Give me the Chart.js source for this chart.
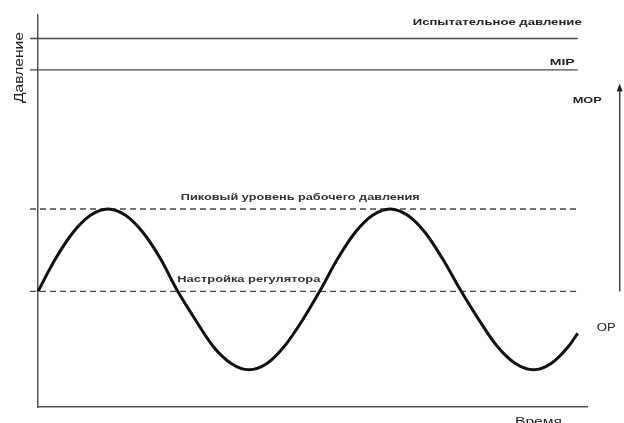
<!DOCTYPE html>
<html>
<head>
<meta charset="utf-8">
<script src="https://cdn.jsdelivr.net/npm/chart.js@4"></script>
<style>
html,body{margin:0;padding:0;background:#fff;}
#wrap{width:624px;height:423px;position:relative;}
</style>
</head>
<body>
<div id="wrap"><canvas id="c"></canvas></div>
<script>
// Time positions (arbitrary units) and pressure values
const timePoints = [0, 0.25, 0.5, 0.75, 1.0, 1.25, 1.5, 1.75, 1.99, 2.25, 2.5, 2.76, 3.01, 3.27, 3.52, 3.78,
                    4.03, 4.28, 4.53, 4.78, 5.03, 5.28, 5.53, 5.78, 6.04, 6.3, 6.56, 6.82, 7.08, 7.33, 7.58, 7.71];
const pressureValues = [29.5, 37.8, 44.5, 48.9, 50.5, 48.9, 44.5, 37.8, 29.7, 22.2, 15.5, 11.1, 9.5, 11.1, 15.5, 22.2,
                        29.7, 37.8, 44.5, 48.9, 50.5, 48.9, 44.5, 37.8, 29.7, 22.2, 15.5, 11.1, 9.5, 11.1, 15.5, 18.8];

// Reference levels
const levelNames = ["Испытательное давление", "MIP", "Пиковый уровень рабочего давления", "Настройка регулятора"];
const levelValues = [94, 86, 50.5, 29.5];
const levelDashed = [false, false, true, true];
const lineStart = -0.114;
const lineEnd = 7.71;

// MOP arrow (from regulator setting up to MOP)
const arrowX = 8.31;
const arrowFrom = 29.5;
const arrowTo = 81.5;

const axisTitleX = "Время";
const axisTitleY = "Давление";
const labelMOP = "MOP";
const labelOP = "OP";

const datasets = [];
levelValues.forEach((v, i) => {
  datasets.push({
    label: levelNames[i],
    data: [{x: lineStart, y: v}, {x: lineEnd, y: v}],
    borderColor: '#4a4a4a',
    borderWidth: 1.4,
    borderDash: levelDashed[i] ? [6, 4] : [],
    pointRadius: 0,
    clip: false,
    order: 2
  });
});
datasets.push({
  label: 'pressure',
  data: timePoints.map((t, i) => ({x: t, y: pressureValues[i]})),
  borderColor: '#111',
  borderWidth: 3,
  cubicInterpolationMode: 'monotone',
  pointRadius: 0,
  clip: false,
  order: 1
});
datasets.push({
  label: 'arrow',
  data: [{x: arrowX, y: arrowFrom}, {x: arrowX, y: arrowTo}],
  borderColor: '#444',
  borderWidth: 1.5,
  pointRadius: 0,
  clip: false,
  order: 0
});

function drawStretched(ctx, text, xLeft, yBase, width, font, color) {
  ctx.save();
  ctx.font = font;
  ctx.fillStyle = color;
  ctx.textBaseline = 'alphabetic';
  ctx.textAlign = 'left';
  const w = ctx.measureText(text).width;
  ctx.translate(xLeft, yBase);
  ctx.scale(width / w, 1);
  ctx.fillText(text, 0, 0);
  ctx.restore();
}

const labelsPlugin = {
  id: 'labels',
  afterDatasetsDraw(chart) {
    const ctx = chart.ctx;
    const xs = chart.scales.x, ys = chart.scales.y;
    const xe = xs.getPixelForValue(lineEnd);
    const bold = 'bold 9.5px "Liberation Sans", Arial, sans-serif';
    const col = '#222';
    // arrow head
    const ax = xs.getPixelForValue(arrowX);
    const ay = ys.getPixelForValue(arrowTo);
    ctx.save();
    ctx.fillStyle = '#222';
    ctx.beginPath();
    ctx.moveTo(ax, ay - 4);
    ctx.lineTo(ax - 3, ay + 4);
    ctx.lineTo(ax + 3, ay + 4);
    ctx.closePath();
    ctx.fill();
    ctx.restore();

    drawStretched(ctx, levelNames[0], xe - 165, ys.getPixelForValue(levelValues[0]) - 14, 169, bold, col);
    drawStretched(ctx, levelNames[1], xe - 28, ys.getPixelForValue(levelValues[1]) - 5, 25, bold, col);
    drawStretched(ctx, levelNames[2], xs.getPixelForValue(2.04), ys.getPixelForValue(levelValues[2]) - 9, 239, bold, '#333');
    drawStretched(ctx, levelNames[3], xs.getPixelForValue(1.99), ys.getPixelForValue(levelValues[3]) - 9, 143, bold, '#333');
    drawStretched(ctx, labelMOP, ax - 47, ys.getPixelForValue(arrowTo) + 15, 29, bold, col);
    drawStretched(ctx, labelOP, ax - 23, ys.getPixelForValue(arrowFrom) + 40, 19, '10px "Liberation Sans", Arial, sans-serif', col);
    drawStretched(ctx, axisTitleX, xs.right - 72, xs.bottom + 18, 47, '11px "Liberation Sans", Arial, sans-serif', col);
    // Y axis title, rotated
    ctx.save();
    ctx.translate(23, 103);
    ctx.rotate(-Math.PI / 2);
    drawStretched(ctx, axisTitleY, 0, 0, 71, '12px "Liberation Sans", Arial, sans-serif', col);
    ctx.restore();
  }
};

new Chart(document.getElementById('c'), {
  type: 'line',
  data: {datasets},
  options: {
    responsive: true,
    maintainAspectRatio: false,
    animation: false,
    events: [],
    layout: {padding: {left: 38, right: 37, top: 15, bottom: 16}},
    plugins: {legend: {display: false}, tooltip: {enabled: false}},
    scales: {
      x: {
        type: 'linear', min: 0, max: 7.843,
        ticks: {display: false},
        grid: {display: false, drawTicks: false},
        border: {display: true, color: '#555', width: 1.5}
      },
      y: {
        type: 'linear', min: 0, max: 100,
        ticks: {display: false},
        grid: {display: false, drawTicks: false},
        border: {display: true, color: '#555', width: 1.5}
      }
    }
  },
  plugins: [labelsPlugin]
});
</script>
</body>
</html>
